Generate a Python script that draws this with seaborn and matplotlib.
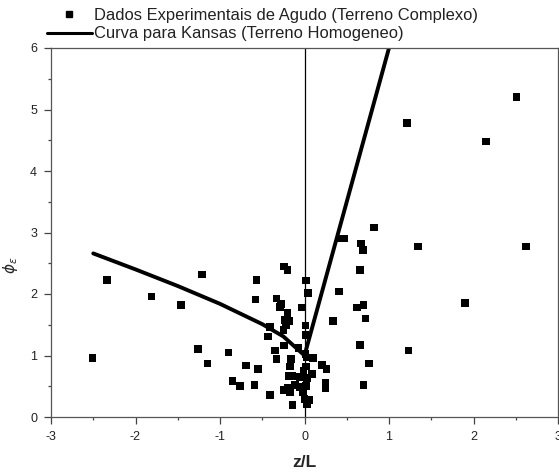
import matplotlib
matplotlib.use("Agg")
import matplotlib.pyplot as plt
import seaborn as sns
import pandas as pd
from matplotlib.lines import Line2D
from matplotlib.ticker import MultipleLocator

# Experimental data (Agudo, complex terrain)
z_L = [-2.34, -2.51, -1.81, -1.46, -1.21, -1.26, -1.15, -0.90, -0.85, -0.76,
       -0.69, -0.59, -0.55, -0.57, -0.58, -0.41, -0.43, -0.41, -0.35, -0.33,
       -0.24, -0.20, -0.33, -0.28, -0.29, -0.20, -0.23, -0.18, -0.22, -0.25,
       -0.24, -0.16, -0.17, -0.19, -0.15, -0.24, -0.20, -0.17, -0.14, -0.11,
       -0.06, -0.07, -0.03, -0.01, -0.05, -0.02,
       0.02, 0.04, 0.01, 0.01, 0.01, 0.03, 0.10, 0.02, 0.09, 0.03,
       0.02, 0.00, 0.05, 0.03, 0.21, 0.26, 0.25, 0.25, 0.41, 0.34,
       2.51, 1.21, 2.15, 0.82, 0.42, 0.47, 0.67, 0.69, 1.34, 2.62,
       0.66, 0.62, 0.70, 1.90, 0.72, 0.66, 1.23, 0.76, 0.70]
phi_e = [2.23, 0.96, 1.96, 1.82, 2.32, 1.11, 0.87, 1.05, 0.59, 0.50,
         0.84, 0.52, 0.78, 2.23, 1.91, 0.36, 1.31, 1.46, 1.08, 0.94,
         2.45, 2.39, 1.93, 1.84, 1.79, 1.69, 1.58, 1.56, 1.49, 1.41,
         1.16, 0.94, 0.82, 0.67, 0.67, 0.44, 0.47, 0.40, 0.20, 0.52,
         0.49, 1.12, 1.78, 0.75, 0.65, 0.41,
         2.22, 2.02, 1.49, 1.33, 1.02, 0.97, 0.96, 0.82, 0.70, 0.63,
         0.50, 0.29, 0.28, 0.21, 0.85, 0.78, 0.55, 0.47, 2.04, 1.56,
         5.20, 4.78, 4.48, 3.08, 2.90, 2.90, 2.82, 2.72, 2.77, 2.77,
         2.39, 1.78, 1.82, 1.85, 1.60, 1.17, 1.08, 0.87, 0.52]

# Kansas curve (homogeneous terrain)
kansas_z = [-2.5, -2.0, -1.5, -1.0, -0.5, -0.25, 0.0, 0.2, 0.4, 0.6, 0.8, 1.0]
kansas_phi = [2.66, 2.40, 2.13, 1.84, 1.51, 1.31, 1.00, 2.0, 3.0, 4.0, 5.0, 6.0]

lbl_data = "Dados Experimentais de Agudo (Terreno Complexo)"
lbl_curve = "Curva para Kansas (Terreno Homogeneo)"

sns.set_theme(style="ticks")
plt.rcParams["font.family"] = ["Liberation Sans", "DejaVu Sans"]
plt.rcParams["mathtext.fontset"] = "dejavusans"
plt.rcParams["axes.unicode_minus"] = False

df_pts = pd.DataFrame({"z": z_L, "phi": phi_e})
df_k = pd.DataFrame({"z": kansas_z, "phi": kansas_phi})

fig = plt.figure(figsize=(5.59, 4.74), dpi=100)
ax = fig.add_axes([51 / 559, 57 / 474, 507 / 559, 369 / 474])

ax.axvline(0, color="black", lw=0.9, zorder=1)
sns.lineplot(data=df_k, x="z", y="phi", sort=False, estimator=None,
             color="black", lw=2.8, ax=ax, zorder=2)
sns.scatterplot(data=df_pts, x="z", y="phi", marker="s", s=30, color="black",
                edgecolor="none", linewidth=0, ax=ax, zorder=3)

ax.set_xlim(-3, 3)
ax.set_ylim(0, 6)
ax.xaxis.set_major_locator(MultipleLocator(1))
ax.xaxis.set_minor_locator(MultipleLocator(0.5))
ax.yaxis.set_major_locator(MultipleLocator(1))
ax.yaxis.set_minor_locator(MultipleLocator(0.5))
ax.tick_params(which="major", direction="out", length=5, width=0.9,
               color="#444444", labelsize=9, pad=5, labelcolor="#222222")
ax.tick_params(which="minor", direction="out", length=2.5, width=0.9,
               color="#444444")
for sp in ax.spines.values():
    sp.set_visible(True)
    sp.set_color("#555555")
    sp.set_linewidth(0.9)

ax.set_xlabel("z/L", fontsize=12.5, fontweight="bold", labelpad=9)
ax.set_ylabel(r"$\phi_{\varepsilon}$", fontsize=11)
ax.yaxis.set_label_coords(-0.062, 0.41)

handles = [Line2D([], [], marker="s", ls="none", color="black", markersize=4.5),
           Line2D([], [], color="black", lw=2.2)]
fig.legend(handles, [lbl_data, lbl_curve], loc="upper left",
           bbox_to_anchor=(47 / 559, 1 - 8 / 474), frameon=False,
           fontsize=11.9, handlelength=2.7, handletextpad=0.15,
           labelspacing=0.2, borderpad=0, borderaxespad=0,
           labelcolor="#222222")

fig.savefig("out.png", dpi=100)
